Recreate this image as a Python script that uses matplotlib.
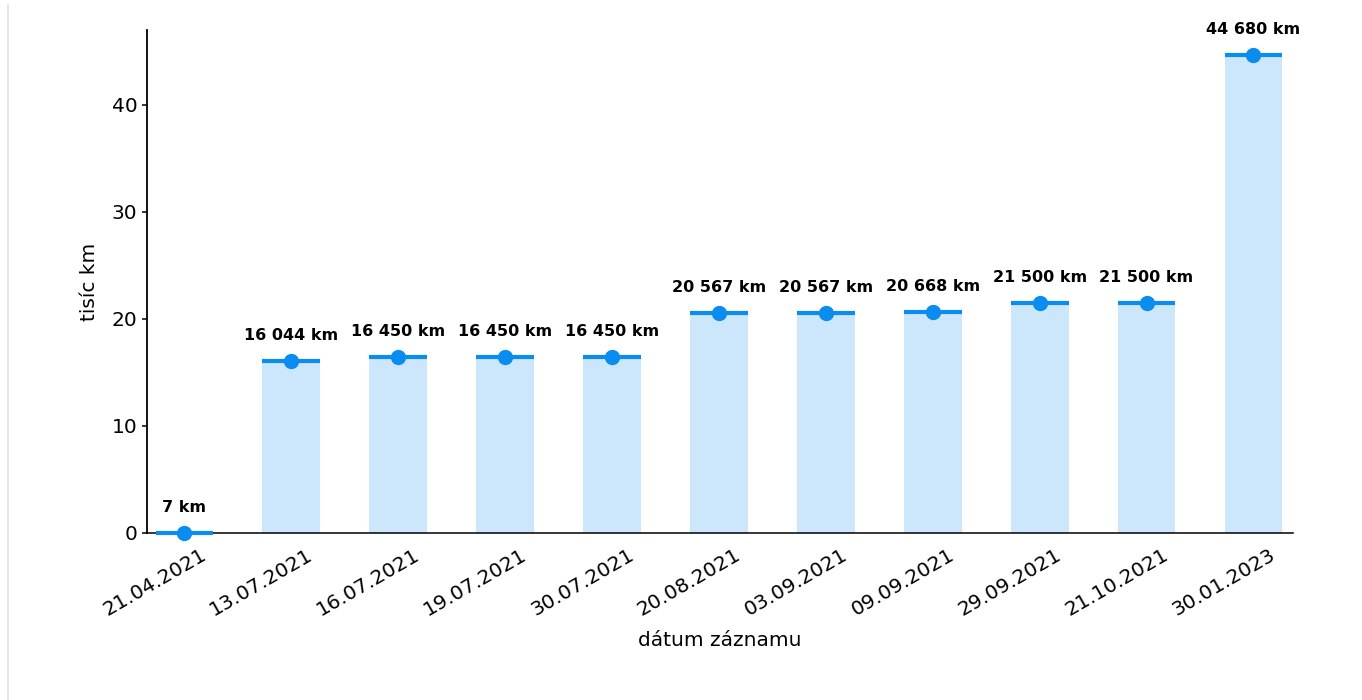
import matplotlib.pyplot as plt
import matplotlib.transforms as mtransforms
from matplotlib.lines import Line2D

# data: odometer readings by date
dates = ['21.04.2021', '13.07.2021', '16.07.2021', '19.07.2021', '30.07.2021',
         '20.08.2021', '03.09.2021', '09.09.2021', '29.09.2021', '21.10.2021',
         '30.01.2023']
km = [7, 16044, 16450, 16450, 16450, 20567, 20567, 20668, 21500, 21500, 44680]

thousands = [v / 1000 for v in km]
labels = ['{:,} km'.format(v).replace(',', ' ') for v in km]

fig = plt.figure(figsize=(13.62, 7.0), dpi=100)
ax = fig.add_axes([147 / 1362, 1 - 533 / 700, (1293 - 147) / 1362, (533 - 30) / 700])

x = list(range(len(dates)))
ax.bar(x, thousands, width=0.54, color='#cce7fb', zorder=1)
# top line + dot drawn over the axis line (so 7 km stays visible)
ax.hlines(thousands, [i - 0.27 for i in x], [i + 0.27 for i in x],
          color='#0a8cf0', linewidth=3, zorder=3, clip_on=False)
ax.plot(x, thousands, 'o', color='#0a8cf0', markersize=10, linestyle='none',
        zorder=4, clip_on=False)

for i in x:
    ax.annotate(labels[i], (i, thousands[i]), xytext=(0, 13), textcoords='offset points',
                ha='center', va='bottom', fontsize=11.5, fontweight='bold')

ax.set_xlim(-0.35, 10.37)
ax.set_ylim(0, 47)
ax.set_yticks([0, 10, 20, 30, 40])
ax.set_xticks(x)
ax.set_xticklabels(dates, rotation=30, ha='right')
ax.tick_params(axis='x', length=0, labelsize=14.5, pad=9)
ax.tick_params(axis='y', labelsize=14.5, width=1.1)
# shift the date labels a bit to the right, like in the original
shift = mtransforms.ScaledTranslation(0.25, 0, fig.dpi_scale_trans)
for lbl in ax.get_xticklabels():
    lbl.set_transform(lbl.get_transform() + shift)
ax.spines['top'].set_visible(False)
ax.spines['right'].set_visible(False)
ax.spines['left'].set_linewidth(1.3)
ax.spines['bottom'].set_linewidth(1.1)
ax.set_xlabel('dátum záznamu', fontsize=14.5, labelpad=8)
ax.set_ylabel('tisíc km', fontsize=14.5, labelpad=9)

# thin page border on the left
fig.add_artist(Line2D([8 / 1362, 8 / 1362], [0, 1 - 5 / 700], color='#e6e6e6', linewidth=1.5))

fig.savefig('out.png', dpi=100)
